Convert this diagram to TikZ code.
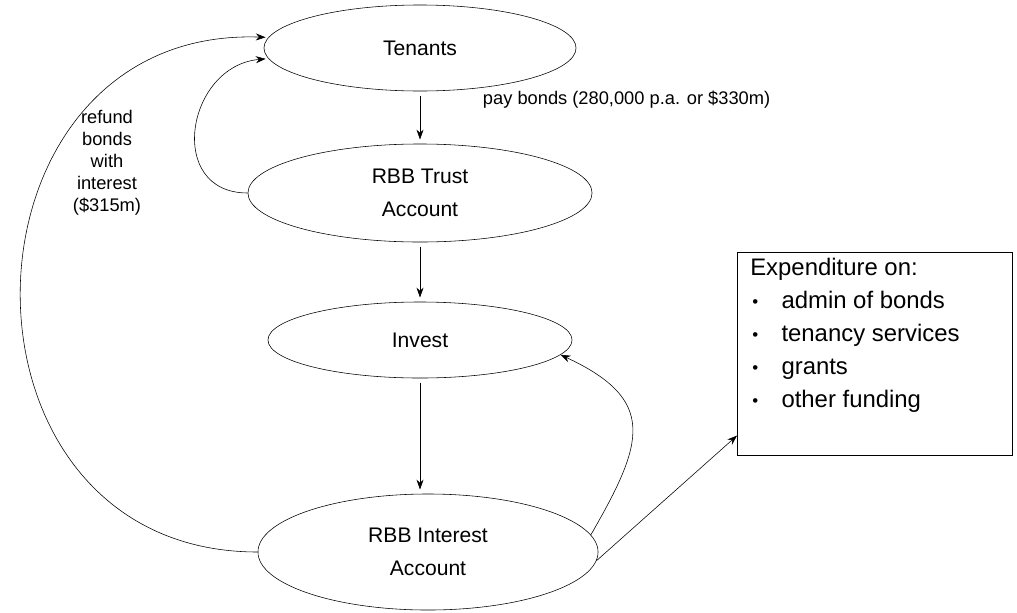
\documentclass[tikz,border=0pt]{standalone}
\usepackage{fontspec}
\setmainfont{Liberation Sans}
\usetikzlibrary{positioning, arrows.meta, shapes.geometric}

\newcommand{\itemdot}{\makebox[0.78cm][l]{\hspace{1.5pt}\raisebox{1pt}{\fontsize{12}{12}\selectfont\textbullet}}}

\tikzset{
    flow/.style={
        ellipse,
        draw,
        thin,
        align=center,
        inner sep=0pt,
        font=\fontsize{15}{23.5}\selectfont
    },
    link/.style={
        -{Stealth[length=7pt, width=5pt]},
        thin
    },
    lbl/.style={
        align=center,
        font=\fontsize{13}{15.6}\selectfont
    }
}

\begin{document}
\begin{tikzpicture}[x=0.025cm, y=-0.025cm]
    \useasboundingbox (0,0) rectangle (1017,612);

    \node[flow, minimum width=7.8cm, minimum height=2.15cm] (tenants) at (420,48) {Tenants};
    \node[flow, minimum width=8.6cm, minimum height=2.45cm] (trust) at (420,193) {RBB Trust\\Account};
    \node[flow, minimum width=7.6cm, minimum height=1.9cm] (invest) at (420,340) {Invest};
    \node[flow, minimum width=8.5cm, minimum height=2.9cm] (interest) at (428,552) {RBB Interest\\Account};

    % expenditure box
    \node[
        draw,
        thin,
        anchor=north west,
        inner xsep=0.325cm,
        inner ysep=0pt,
        font=\fontsize{17}{23.5}\selectfont
    ] (box) at (737,252) {%
        \parbox[t][5.075cm][t]{6.225cm}{\vspace{0.15cm}%
            Expenditure on:\\
            \itemdot admin of bonds\\
            \itemdot tenancy services\\
            \itemdot grants\\
            \itemdot other funding}
    };

    \node[lbl, anchor=west] (pay) at (478,100) {pay bonds (280,000 p.a. or \$330m)};
    \node[lbl] (refund) at (107,163) {refund\\bonds\\with\\interest\\(\$315m)};

    \draw[link, shorten <=3pt, shorten >=3pt] (tenants) -- (trust);
    \draw[link, shorten <=3pt, shorten >=3pt] (trust) -- (invest);
    \draw[link, shorten <=3pt, shorten >=3pt] (invest.south) -- (invest.south |- interest.north);

    \draw[link, shorten >=2pt] (trust.west) to[out=180, in=185, looseness=1.55] (tenants.184);
    \draw[link, shorten >=2pt] (interest.west) to[out=180, in=178, looseness=1.6] (tenants.176);
    \draw[link] (interest.6) to[out=60, in=-25, looseness=1.5] (invest.-6);
    \draw[link] (interest.-3) -- ([yshift=0.5cm]box.south west);
\end{tikzpicture}
\end{document}
